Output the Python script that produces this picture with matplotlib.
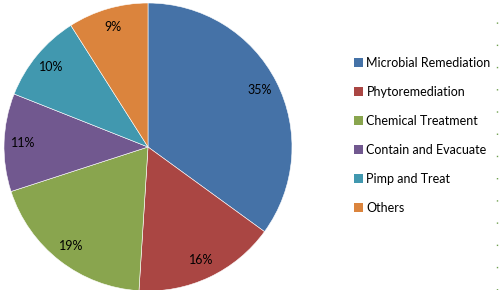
import matplotlib
matplotlib.use("Agg")
import matplotlib.pyplot as plt
from matplotlib.patches import Patch
from matplotlib.lines import Line2D

labels = ["Microbial Remediation", "Phytoremediation", "Chemical Treatment",
          "Contain and Evacuate", "Pimp and Treat", "Others"]
values = [35, 16, 19, 11, 10, 9]
colors = ["#4572A7", "#AA4643", "#89A54E", "#71588F", "#4198AF", "#DB843D"]

plt.rcParams['font.family'] = ['Lato', 'DejaVu Sans']

fig = plt.figure(figsize=(5, 2.9), dpi=100)
ax = fig.add_axes([4/500, -1/290, 288/500, 288/290])
wedges, texts, autotexts = ax.pie(
    values, colors=colors, startangle=90, counterclock=False,
    autopct=lambda p: f"{p:.0f}%", pctdistance=0.87, radius=1,
    wedgeprops=dict(edgecolor="white", linewidth=0.4),
    textprops=dict(fontsize=9, color="black"))
ax.set_xlim(-1, 1)
ax.set_ylim(-1, 1)
ax.set_aspect("equal")
ax.axis("off")

handles = [Patch(facecolor=c, edgecolor="none") for c in colors]
fig.legend(handles, labels, loc="upper left", bbox_to_anchor=(349/500, 1 - 52/290),
           frameon=False, fontsize=9, handlelength=0.7, handleheight=0.7,
           handletextpad=0.3, labelspacing=1.36, borderaxespad=0)

fig.add_artist(Line2D([497/500, 497/500], [0, 1 - 8/290], color="#70A050",
                      linewidth=1, linestyle=(0, (1, 15))))

fig.savefig("out.png", dpi=100)
